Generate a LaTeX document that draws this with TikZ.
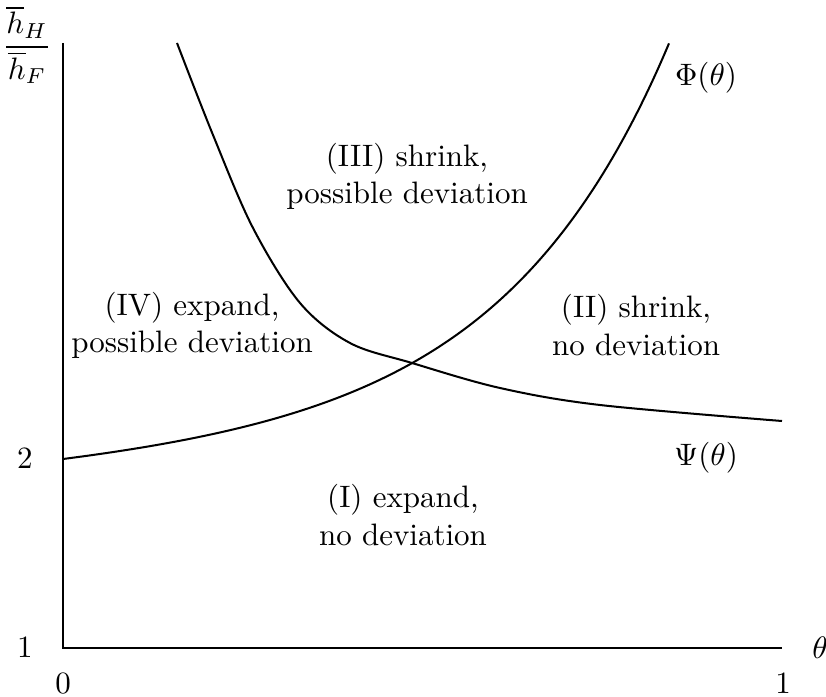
\documentclass[tikz,border=0pt]{standalone}
\begin{document}
\begin{tikzpicture}[x=0.3226pt,y=-0.3226pt,
  axis/.style={line width=0.5pt},
  curve/.style={line width=0.65pt},
  region/.style={align=center,inner sep=0pt},
  lbl/.style={inner sep=0pt}]
\useasboundingbox (0,0) rectangle (826,697);
% axes
\coordinate (top) at (63,43);
\coordinate (origin) at (63,648);
\coordinate (xend) at (782,648);
\draw[axis] (top) -- (origin) -- (xend);
% Phi curve
\draw[curve] plot[domain=0:606,samples=120,smooth] ({63+\x},{459-0.0678*\x-10.16*(exp(0.006*\x)-1)});
% Psi curve
\draw[curve] plot[smooth,tension=0.55] coordinates {(177,43) (213,135) (253,228) (300,303) (350,343) (412,363) (500,388) (600,405) (782,421)};
% labels
\node[lbl] (yl) at (27,45) {$\displaystyle\frac{\overline{h}_H}{\overline{h}_F}$};
\node[lbl] (two) at (25,459) {$2$};
\node[lbl] (one) at (25,648) {$1$};
\node[lbl] (x0) at (63,684) {$0$};
\node[lbl] (x1) at (783,684) {$1$};
\node[lbl] (th) at (820,648) {$\theta$};
\node[lbl] (phi) at (706,78) {$\Phi(\theta)$};
\node[lbl] (psi) at (706,458) {$\Psi(\theta)$};
\node[region] (r3) at (407,176) {(III) shrink,\\possible deviation};
\node[region] (r4) at (192,325) {(IV) expand,\\possible deviation};
\node[region] (r2) at (636,325) {(II) shrink,\\no deviation};
\node[region] (r1) at (403,515) {(I) expand,\\no deviation};
\end{tikzpicture}
\end{document}
